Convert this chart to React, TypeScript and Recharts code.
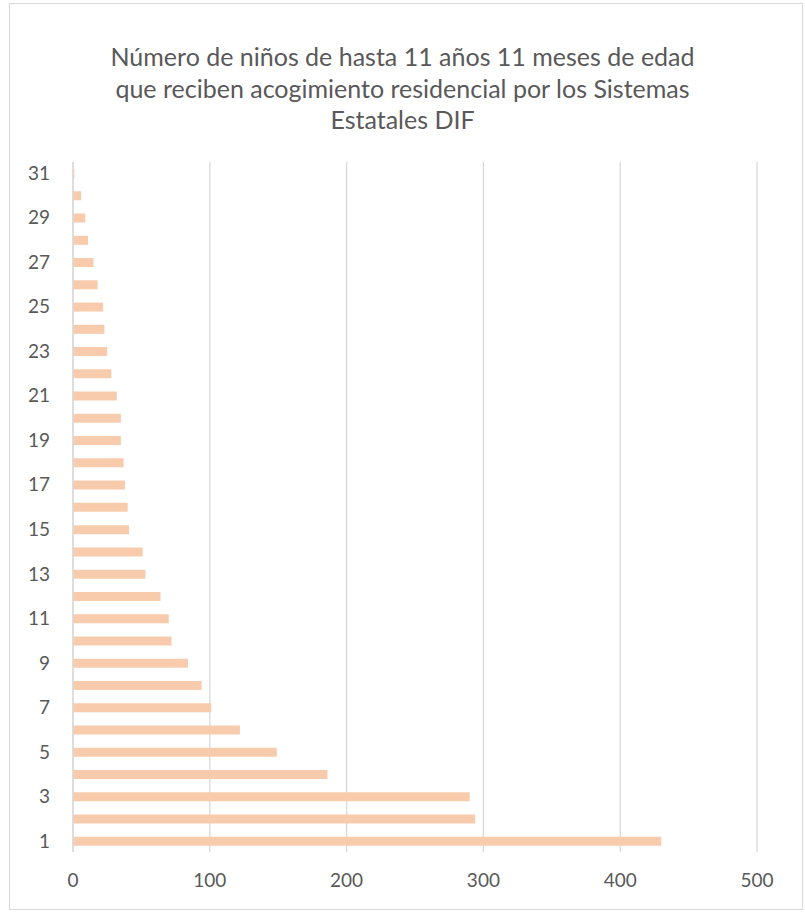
import React from "react";
import { BarChart, Bar, XAxis, YAxis, CartesianGrid } from "recharts";

document.body.style.margin = "0";

const categories = [
  1, 2, 3, 4, 5, 6, 7, 8, 9, 10, 11, 12, 13, 14, 15, 16,
  17, 18, 19, 20, 21, 22, 23, 24, 25, 26, 27, 28, 29, 30, 31,
];
const ninos = [
  430, 294, 290, 186, 149, 122, 101, 94, 84, 72, 70, 64, 53, 51, 41, 40,
  38, 37, 35, 35, 32, 28, 25, 23, 22, 18, 15, 11, 9, 6, 1,
];
const xTicks = [0, 100, 200, 300, 400, 500];
const titleLines = [
  "Número de niños de hasta 11 años 11 meses de edad",
  "que reciben acogimiento residencial por los Sistemas",
  "Estatales DIF",
];

const data = categories.map((c, i) => ({ cat: String(c), value: ninos[i] }));

const font = "Lato, 'Open Sans', sans-serif";
const textColor = "#595959";

export default function App() {
  return (
    <div style={{ position: "relative", width: 805, height: 913, background: "#fff", fontFamily: font }}>
      <div
        style={{
          position: "absolute", left: 9, top: 3, width: 794, height: 907,
          border: "1px solid #d9d9d9", boxSizing: "border-box",
        }}
      />
      <div
        style={{
          position: "absolute", left: 0, top: 41, width: 805, textAlign: "center",
          fontSize: 25, lineHeight: "31.5px", color: textColor,
        }}
      >
        {titleLines.map(l => <div key={l}>{l}</div>)}
      </div>
      <div style={{ position: "absolute", left: 0, top: 0 }}>
        <BarChart
          width={805}
          height={913}
          data={data}
          layout="vertical"
          margin={{ top: 162, right: 48, bottom: 21, left: 0 }}
        >
          <CartesianGrid horizontal={false} stroke="#d9d9d9" strokeWidth={1.3} />
          <XAxis
            type="number"
            domain={[0, 500]}
            ticks={xTicks}
            axisLine={false}
            tickLine={false}
            tickMargin={16}
            height={40}
            tick={{ fontSize: 19, fill: textColor, fontFamily: font }}
          />
          <YAxis
            type="category"
            dataKey="cat"
            reversed
            interval={1}
            width={73}
            axisLine={{ stroke: "#d9d9d9", strokeWidth: 1.3 }}
            tickLine={false}
            tickMargin={17}
            tick={{ fontSize: 19, fill: textColor, fontFamily: font }}
          />
          <Bar dataKey="value" fill="#f8cbad" barSize={9} isAnimationActive={false} />
        </BarChart>
      </div>
    </div>
  );
}
